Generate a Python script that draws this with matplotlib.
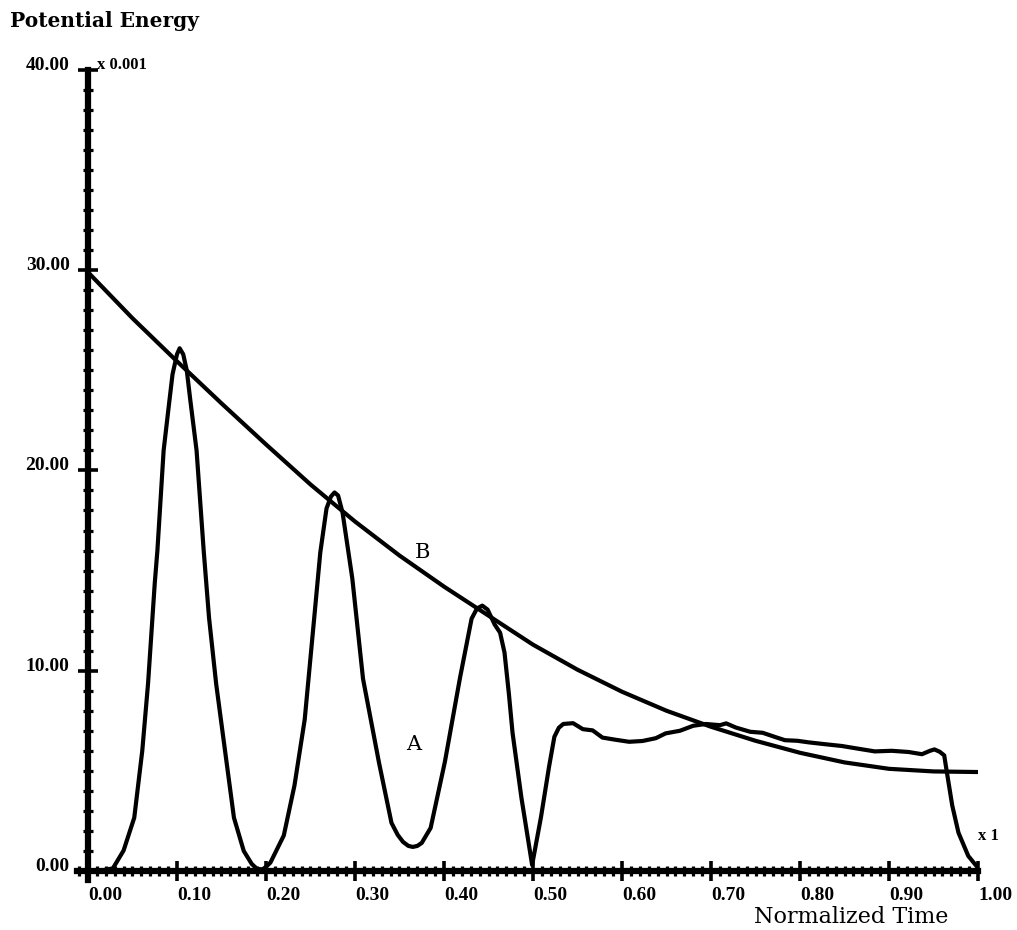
import matplotlib
matplotlib.use("Agg")
import matplotlib.pyplot as plt
from matplotlib.ticker import MultipleLocator, FixedLocator

# 曲线 B：包络线（单位 x 0.001）
b_t = [0.0, 0.05, 0.10, 0.15, 0.20, 0.25, 0.30, 0.35, 0.40, 0.45,
       0.50, 0.55, 0.60, 0.65, 0.70, 0.75, 0.80, 0.85, 0.90, 0.95, 1.0]
b_e = [29.9, 27.6, 25.45, 23.35, 21.3, 19.3, 17.45, 15.75, 14.2, 12.75,
       11.3, 10.05, 8.95, 8.0, 7.2, 6.5, 5.9, 5.42, 5.1, 4.97, 4.94]

# 曲线 A：势能随归一化时间的变化
a_t = [0.0, 0.015, 0.028, 0.040, 0.052, 0.061, 0.0675, 0.075, 0.078, 0.085,
       0.091, 0.095, 0.100, 0.103, 0.107, 0.111, 0.115, 0.122, 0.130, 0.136,
       0.144, 0.154, 0.164, 0.175, 0.184, 0.190, 0.196, 0.200, 0.205, 0.220,
       0.232, 0.2435, 0.254, 0.261, 0.268, 0.273, 0.277, 0.281, 0.286, 0.297,
       0.309, 0.327, 0.341, 0.348, 0.354, 0.360, 0.365, 0.370, 0.375, 0.385,
       0.401, 0.418, 0.431, 0.437, 0.443, 0.449, 0.457, 0.463, 0.468, 0.473,
       0.477, 0.487, 0.499, 0.509, 0.518, 0.524, 0.529, 0.534, 0.545, 0.556,
       0.567, 0.578, 0.593, 0.608, 0.623, 0.638, 0.649, 0.665, 0.680, 0.694,
       0.710, 0.717, 0.728, 0.744, 0.758, 0.772, 0.783, 0.797, 0.810, 0.828,
       0.847, 0.866, 0.884, 0.903, 0.922, 0.937, 0.946, 0.951, 0.957, 0.962,
       0.965, 0.971, 0.978, 0.989, 1.0]
a_e = [0.0, 0.02, 0.13, 1.02, 2.66, 6.0, 9.36, 14.35, 16.0, 21.0,
       23.3, 24.8, 25.8, 26.1, 25.8, 25.0, 23.5, 21.0, 16.0, 12.65,
       9.35, 6.0, 2.66, 1.0, 0.35, 0.1, 0.08, 0.2, 0.42, 1.77,
       4.27, 7.56, 12.55, 15.9, 18.1, 18.7, 18.9, 18.75, 17.9, 14.6,
       9.6, 5.4, 2.4, 1.8, 1.45, 1.25, 1.2, 1.25, 1.4, 2.15,
       5.45, 9.65, 12.6, 13.1, 13.25, 13.05, 12.3, 11.9, 10.9, 8.8,
       6.9, 3.65, 0.3, 2.7, 5.2, 6.7, 7.15, 7.34, 7.38, 7.08,
       7.02, 6.66, 6.55, 6.45, 6.49, 6.63, 6.87, 7.0, 7.25, 7.34,
       7.28, 7.37, 7.16, 6.95, 6.9, 6.69, 6.53, 6.5, 6.42, 6.33,
       6.24, 6.1, 5.97, 6.0, 5.94, 5.83, 6.0, 6.07, 5.95, 5.77,
       4.92, 3.27, 1.91, 0.75, 0.15]

x_ticks = [0.0, 0.1, 0.2, 0.3, 0.4, 0.5, 0.6, 0.7, 0.8, 0.9, 1.0]
y_ticks = [0, 10, 20, 30, 40]

plt.rcParams['font.family'] = ['Liberation Serif', 'DejaVu Serif']

fig = plt.figure(figsize=(10.17, 9.3), dpi=100)
# x: 0 -> 88px, 1 -> 978px ; y: 0 -> 871px, 40 -> 70px
ax = fig.add_axes([0.076, 0.0538, 0.8857, 0.871])

ax.plot(b_t, b_e, color="black", lw=3, solid_capstyle="butt", solid_joinstyle="round")
ax.plot(a_t, a_e, color="black", lw=3, solid_capstyle="butt", solid_joinstyle="round")

ax.set_xlim(-0.012, 1.0)
ax.set_ylim(-0.45, 40)

# 坐标轴：只保留左、下两条粗线
for side in ["top", "right"]:
    ax.spines[side].set_visible(False)
ax.spines["left"].set_position(("data", 0))
ax.spines["bottom"].set_position(("data", 0))
ax.spines["left"].set_linewidth(4.5)
ax.spines["bottom"].set_linewidth(4.5)

ax.xaxis.set_major_locator(FixedLocator(x_ticks))
ax.yaxis.set_major_locator(FixedLocator(y_ticks))
ax.xaxis.set_minor_locator(MultipleLocator(0.01))
ax.yaxis.set_minor_locator(MultipleLocator(1))
ax.tick_params(which="major", direction="inout", length=14.5, width=2.6, color="black")
ax.tick_params(which="minor", direction="inout", length=7, width=2.3, color="black")
ax.tick_params(axis="x", which="major", pad=4)
ax.tick_params(axis="y", which="major", pad=6)

ax.set_xticklabels(["%.2f" % v for v in x_ticks], fontsize=14, fontweight="bold")
ax.set_yticklabels(["%.2f" % v for v in y_ticks], fontsize=14, fontweight="bold")
for lab in ax.get_xticklabels():
    lab.set_horizontalalignment("left")
for lab in ax.get_yticklabels():
    lab.set_verticalalignment("baseline")

# 标题与单位
fig.text(0.0098, 0.971, "Potential Energy", fontsize=14.5, fontweight="bold",
         ha="left", va="baseline", family=["DejaVu Serif"])
fig.text(0.0954, 0.930, "x 0.001", fontsize=12, fontweight="bold", ha="left", va="center")
fig.text(0.962, 0.101, "x 1", fontsize=12, fontweight="bold", ha="left", va="center")
fig.text(0.837, 0.0075, "Normalized Time", fontsize=16, ha="center", va="baseline",
         family=["DejaVu Serif"])

# 曲线标注
ax.text(0.376, 15.9, "B", fontsize=15, ha="center", va="center", family=["DejaVu Serif"])
ax.text(0.366, 6.3, "A", fontsize=15, ha="center", va="center", family=["DejaVu Serif"])

fig.savefig("out.png", dpi=100)
